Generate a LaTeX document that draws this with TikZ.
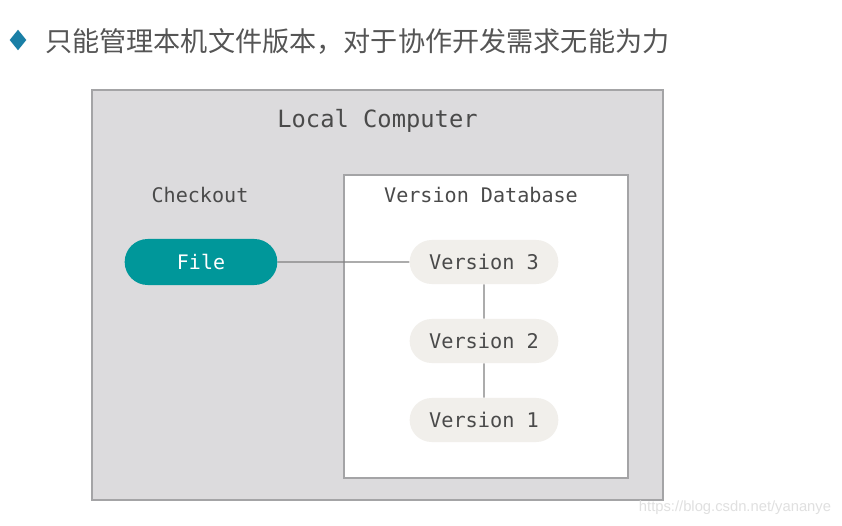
\documentclass[tikz,border=0pt]{standalone}
\usepackage{fontspec}
\setmonofont{DejaVu Sans Mono}
\setsansfont{Liberation Sans}
\newfontfamily\cjk{Noto Sans CJK SC}
\usepackage{tikz}
\usetikzlibrary{shapes.geometric,shapes.misc,backgrounds}
\pgfdeclarelayer{edgelayer}
\pgfdeclarelayer{nodelayer}
\pgfsetlayers{edgelayer,nodelayer,main}
\definecolor{boxgray}{HTML}{DCDBDD}
\definecolor{rimgray}{HTML}{A4A4A6}
\definecolor{fileteal}{HTML}{00979A}
\definecolor{versbeige}{HTML}{F1EFEB}
\definecolor{inkgray}{HTML}{4A4A4A}
\definecolor{titlegray}{HTML}{555555}
\definecolor{bulletblue}{HTML}{1A7FA6}
\tikzstyle{computer}=[rectangle, fill=boxgray, draw=rimgray, line width=1pt, minimum width=14.275cm, minimum height=10.25cm]
\tikzstyle{database}=[rectangle, fill=white, draw=rimgray, line width=1pt, minimum width=7.1cm, minimum height=7.575cm]
\tikzstyle{file}=[rounded rectangle, fill=fileteal, text=white, minimum width=4.05cm, minimum height=1.15cm, font=\ttfamily\fontsize{14.2}{16}\selectfont]
\tikzstyle{version}=[rounded rectangle, fill=versbeige, text=inkgray, minimum width=3.95cm, minimum height=1.1cm, font=\ttfamily\fontsize{14.4}{16}\selectfont]
\tikzstyle{caption}=[text=inkgray, font=\ttfamily\fontsize{14.3}{16}\selectfont]
\tikzstyle{link}=[-, draw=gray, line width=0.8pt]

\begin{document}
\begin{tikzpicture}[x=0.025cm, y=-0.025cm]
            \useasboundingbox (0, 0) rectangle (842, 526);
            \begin{pgfonlayer}{edgelayer}
                \fill [white] (0, 0) rectangle (842, 526);
                \node [style=computer] (local) at (377.5, 295) {};
                \node [style=database] (db) at (486, 326.5) {};
            \end{pgfonlayer}
            \begin{pgfonlayer}{nodelayer}
                \node [diamond, fill=bulletblue, minimum width=0.42cm, minimum height=0.52cm, inner sep=0pt] (bullet) at (18, 40) {};
                \node [anchor=west, inner sep=0pt, text=titlegray, font=\cjk\fontsize{19.3}{22}\selectfont] (title) at (45, 41) {只能管理本机文件版本，对于协作开发需求无能为力};

                \node [style=caption, font=\ttfamily\fontsize{16.9}{19}\selectfont] (localtext) at (377.5, 121) {Local Computer};
                \node [style=caption] (checkout) at (200, 195) {Checkout};
                \node [style=caption] (dbtext) at (481, 195) {Version Database};

                \node [style=file] (File) at (201, 262) {File};
                \node [style=version] (V3) at (484, 262) {Version 3};
                \node [style=version] (V2) at (484, 341) {Version 2};
                \node [style=version] (V1) at (484, 420) {Version 1};

                \node [anchor=east, text=black!12, font=\sffamily\fontsize{10.5}{12}\selectfont] (mark) at (836, 508) {https://blog.csdn.net/yananye};
            \end{pgfonlayer}
            \begin{pgfonlayer}{edgelayer}
                \draw [style=link] (File) to (V3);
                \draw [style=link] (V3) to (V2);
                \draw [style=link] (V2) to (V1);
            \end{pgfonlayer}
        \end{tikzpicture}
\end{document}
